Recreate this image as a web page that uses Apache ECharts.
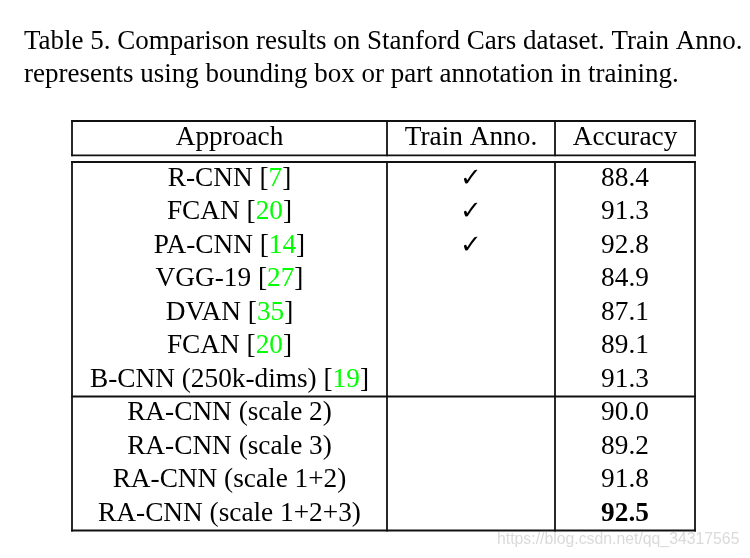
<!DOCTYPE html>
<html>
<head>
<meta charset="utf-8">
<script src="https://cdn.jsdelivr.net/npm/echarts@6/dist/echarts.min.js"></script>
<style>html,body{margin:0;padding:0;background:#fff}#c{width:750px;height:558px}</style>
</head>
<body>
<div id="c"></div>
<script>
// ---------- data ----------
var captionLines = [
  'Table 5. Comparison results on Stanford Cars dataset. Train Anno.',
  'represents using bounding box or part annotation in training.'
];
var columns = ['Approach', 'Train Anno.', 'Accuracy'];
var approaches = ['R-CNN', 'FCAN', 'PA-CNN', 'VGG-19', 'DVAN', 'FCAN', 'B-CNN (250k-dims)',
  'RA-CNN (scale 2)', 'RA-CNN (scale 3)', 'RA-CNN (scale 1+2)', 'RA-CNN (scale 1+2+3)'];
var refs = ['7', '20', '14', '27', '35', '20', '19', '', '', '', ''];
var trainAnno = [true, true, true, false, false, false, false, false, false, false, false];
var accuracy = [88.4, 91.3, 92.8, 84.9, 87.1, 89.1, 91.3, 90.0, 89.2, 91.8, 92.5];
var bestIndex = 10;
var groupSize = 7;
var watermark = 'https://blog.csdn.net/qq_34317565';

// ---------- layout ----------
var colEdges = [0, 315, 483, 623];
var headerH = 34.3, bodyTop = 41, rowH = 33.5;
var SERIF = '"Liberation Serif", "Times New Roman", serif';
var FS = 27.3;
var TXT = '#000';
var LINE = '#111';

var nRows = approaches.length;
var bodyBottom = bodyTop + rowH * nRows;
var W = colEdges[colEdges.length - 1];

// rule segments built from the table structure
var segs = [];
function hseg(y) { segs.push([0, y, W, y]); }
hseg(0); hseg(headerH);
hseg(bodyTop); hseg(bodyTop + rowH * groupSize); hseg(bodyBottom);
colEdges.forEach(function (x) {
  segs.push([x, 0, x, headerH]);
  segs.push([x, bodyTop, x, bodyBottom]);
});

function colCenter(c) { return (colEdges[c] + colEdges[c + 1]) / 2; }
function rowCenter(i) { return bodyTop + rowH * (i + 0.5); }

var cells = [];
columns.forEach(function (h, c) {
  cells.push({ value: [colCenter(c), headerH / 2, h] });
});
approaches.forEach(function (a, i) {
  var t = refs[i] ? a + ' [{g|' + refs[i] + '}]' : a;
  cells.push({ value: [colCenter(0), rowCenter(i), t] });
  if (trainAnno[i]) cells.push({ value: [colCenter(1), rowCenter(i), '\u2713'],
    label: { fontFamily: '"DejaVu Sans", sans-serif', fontSize: 26 } });
  var acc = { value: [colCenter(2), rowCenter(i), accuracy[i].toFixed(1)] };
  if (i === bestIndex) acc.label = { fontWeight: 'bold' };
  cells.push(acc);
});

var chart = echarts.init(document.getElementById('c'), null, { renderer: 'canvas' });
chart.setOption({
  backgroundColor: '#fff',
  animation: false,
  title: [{
    text: captionLines.join('\n'),
    left: 24, top: 25, padding: 0,
    textStyle: { fontFamily: SERIF, fontSize: 27, fontWeight: 'normal', color: TXT, lineHeight: 33 }
  }, {
    text: watermark,
    left: 497, top: 532, padding: 0,
    textStyle: { fontFamily: '"Liberation Sans", Arial, sans-serif', fontSize: 15.8, fontWeight: 'normal', color: '#dadada' }
  }],
  grid: { left: 72, top: 121, width: 623, height: 410 },
  xAxis: { type: 'value', min: 0, max: 623, show: false },
  yAxis: { type: 'value', min: 0, max: 410, inverse: true, show: false },
  series: [{
    type: 'custom',
    silent: true,
    data: segs,
    renderItem: function (params, api) {
      var p1 = api.coord([api.value(0), api.value(1)]);
      var p2 = api.coord([api.value(2), api.value(3)]);
      return { type: 'line', shape: { x1: p1[0], y1: p1[1], x2: p2[0], y2: p2[1] },
        style: { stroke: LINE, lineWidth: 1.8, lineCap: 'square' } };
    }
  }, {
    type: 'scatter',
    silent: true,
    symbolSize: 0,
    itemStyle: { opacity: 1 },
    data: cells,
    label: {
      show: true, position: 'inside', opacity: 1,
      formatter: function (p) { return p.value[2]; },
      fontFamily: SERIF, fontSize: FS, color: TXT,
      rich: { g: { fontFamily: SERIF, fontSize: FS, color: '#00ff00' } }
    }
  }]
});
</script>
</body>
</html>
